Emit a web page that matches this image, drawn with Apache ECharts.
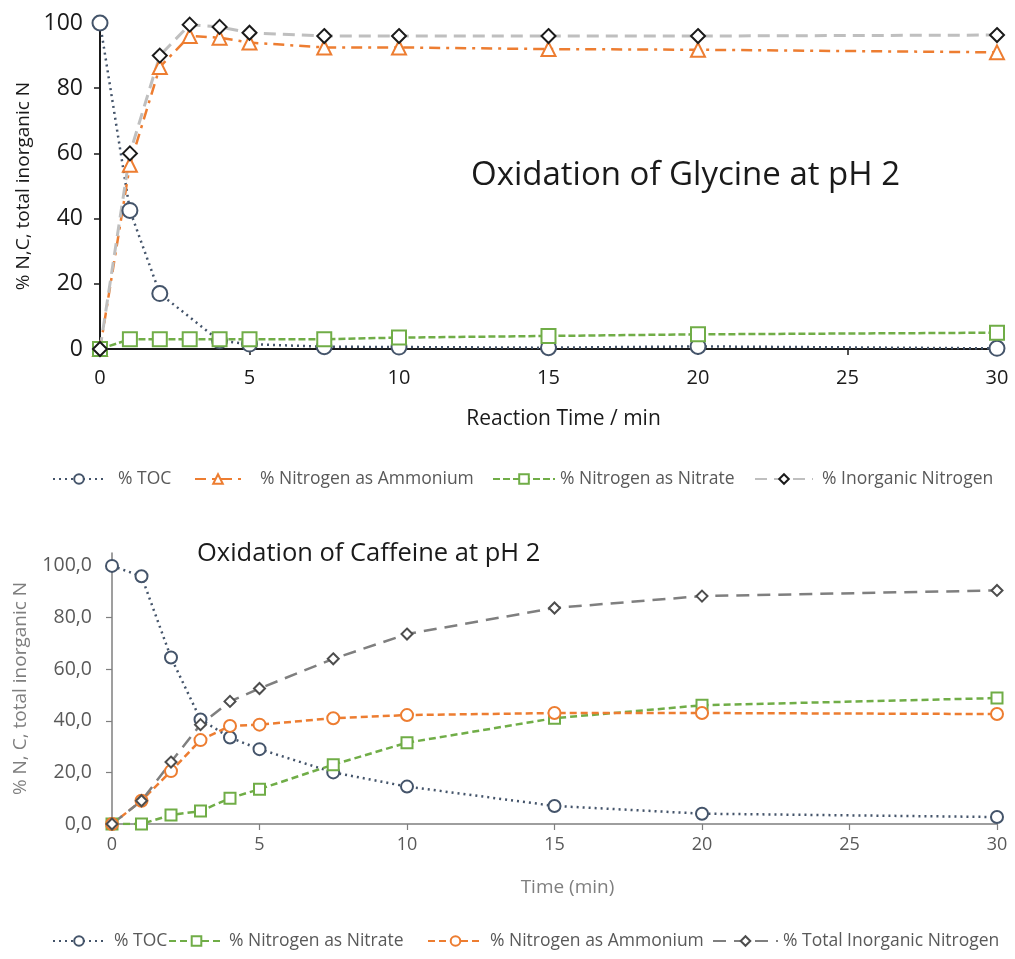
<!DOCTYPE html>
<html>
<head>
<meta charset="utf-8">
<script src="https://cdn.jsdelivr.net/npm/echarts@6/dist/echarts.min.js"></script>
<style>html,body{margin:0;padding:0;background:#fff}#c{width:1015px;height:959px}</style>
</head>
<body>
<div id="c"></div>
<script>
// ---- Top chart: Oxidation of Glycine at pH 2 ----
const glyTime = [0, 1, 2, 3, 4, 5, 7.5, 10, 15, 20, 30];
const glyTocTime = [0, 1, 2, 4, 5, 7.5, 10, 15, 20, 30];
const glyTOC = [100, 42.5, 17, 2.5, 1.5, 0.7, 0.6, 0.4, 0.8, 0.2];
const glyAmmonium = [0, 56.5, 86.5, 96, 95.5, 94, 92.5, 92.5, 92, 91.8, 91];
const glyNitrate = [0, 3, 3, 3, 3, 3, 3, 3.5, 4, 4.5, 5];
const glyInorganic = [0, 60, 90, 99.5, 98.8, 97, 96, 96, 96, 96, 96.3];
const glyNames = ['% TOC', '% Nitrogen as Ammonium', '% Nitrogen as Nitrate', '% Inorganic Nitrogen'];

// ---- Bottom chart: Oxidation of Caffeine at pH 2 ----
const cafTime = [0, 1, 2, 3, 4, 5, 7.5, 10, 15, 20, 30];
const cafTOC = [100, 96, 64.5, 40.5, 33.5, 29, 20, 14.5, 7, 4, 2.7];
const cafNitrate = [0, 0, 3.5, 5, 10, 13.5, 23, 31.5, 41, 46, 48.8];
const cafAmmonium = [0, 9, 20.5, 32.5, 38, 38.5, 41, 42.2, 43, 43, 42.6];
const cafTotal = [0, 9, 24, 38.5, 47.5, 52.5, 64, 73.6, 83.7, 88.3, 90.5];
const cafNames = ['% TOC', '% Nitrogen as Nitrate', '% Nitrogen as Ammonium', '% Total Inorganic Nitrogen'];

const yTicks = [0, 20, 40, 60, 80, 100];

const pairs = (xs, ys) => xs.map((x, i) => [x, ys[i]]);
const FONT = 'Open Sans';

// legend display text per internal series id
const labelOf = {};
glyNames.forEach((n, i) => { labelOf['g' + i] = n; });
cafNames.forEach((n, i) => { labelOf['c' + i] = n; });

const chart = echarts.init(document.getElementById('c'), null, {renderer: 'canvas'});

function lineSeries(id, xi, yi, data, color, dash, width, symbol, size, borderColor) {
  return {
    name: id, type: 'line', xAxisIndex: xi, yAxisIndex: yi, data: data,
    symbol: symbol, symbolSize: size, showSymbol: true,
    lineStyle: {color: color, type: dash, width: width},
    itemStyle: {color: '#ffffff', borderColor: borderColor || color, borderWidth: 2},
    emphasis: {disabled: true}, animation: false
  };
}

function legendItem(id, left, top, iw, gap, fs) {
  return {
    data: [id], left: left, top: top, padding: 0, itemWidth: iw, itemHeight: 12,
    formatter: n => labelOf[n],
    textStyle: {fontFamily: FONT, fontSize: fs, color: '#595959', padding: [0, 0, 0, gap]},
    selectedMode: false
  };
}

const option = {
  backgroundColor: '#ffffff',
  animation: false,
  title: [
    {text: 'Oxidation of Glycine at pH 2', left: 466, top: 154,
     textStyle: {fontFamily: FONT, fontSize: 33, fontWeight: 'normal', color: '#1a1a1a'}},
    {text: 'Oxidation of Caffeine at pH 2', left: 192, top: 536,
     textStyle: {fontFamily: FONT, fontSize: 25.5, fontWeight: 'normal', color: '#1a1a1a'}}
  ],
  legend: [
    legendItem('g0', 52, 470, 52, 8, 17.5),
    legendItem('g1', 194, 470, 46, 14, 17.5),
    legendItem('g2', 492, 470, 62, 0, 17.5),
    legendItem('g3', 754, 470, 58, 4, 17.5),
    legendItem('c0', 52, 932, 52, 4, 17.5),
    legendItem('c1', 168, 932, 55, 0, 17.5),
    legendItem('c2', 427, 932, 55, 2, 17.5),
    legendItem('c3', 712, 932, 65, 0, 17.5)
  ],
  grid: [
    {left: 100, right: 18, top: 23, bottom: 610},
    {left: 112, right: 18, top: 553, bottom: 135}
  ],
  xAxis: [
    {type: 'value', gridIndex: 0, min: 0, max: 30, interval: 5,
     name: 'Reaction Time / min', nameLocation: 'middle', nameGap: 60,
     nameTextStyle: {fontFamily: FONT, fontSize: 21, color: '#1a1a1a', padding: [0, 0, 0, 30]},
     axisLine: {lineStyle: {color: '#1a1a1a', width: 2}},
     axisTick: {show: true, length: 6, lineStyle: {color: '#1a1a1a', width: 1.5}},
     axisLabel: {fontFamily: FONT, fontSize: 20, color: '#1a1a1a', margin: 19},
     splitLine: {show: false}},
    {type: 'value', gridIndex: 1, min: 0, max: 30, interval: 5,
     name: 'Time (min)', nameLocation: 'middle', nameGap: 54,
     nameTextStyle: {fontFamily: FONT, fontSize: 19, color: '#7f7f7f', padding: [0, 0, 0, 26]},
     axisLine: {lineStyle: {color: '#7f7f7f', width: 1.5}},
     axisTick: {show: true, length: 6, lineStyle: {color: '#7f7f7f', width: 1.2}},
     axisLabel: {fontFamily: FONT, fontSize: 18, color: '#595959', margin: 12},
     splitLine: {show: false}}
  ],
  yAxis: [
    {type: 'value', gridIndex: 0, min: 0, max: 100, interval: 20,
     name: '% N,C, total inorganic N', nameLocation: 'middle', nameGap: 64,
     nameTextStyle: {fontFamily: FONT, fontSize: 19, color: '#1a1a1a'},
     axisLine: {show: true, lineStyle: {color: '#1a1a1a', width: 2}},
     axisTick: {show: true, length: 6, lineStyle: {color: '#1a1a1a', width: 1.5}},
     axisLabel: {fontFamily: FONT, fontSize: 23, color: '#1a1a1a', margin: 17},
     splitLine: {show: false}},
    {type: 'value', gridIndex: 1, min: 0, max: 105, interval: 20,
     name: '% N, C, total inorganic N', nameLocation: 'middle', nameGap: 82,
     nameTextStyle: {fontFamily: FONT, fontSize: 19, color: '#7f7f7f'},
     axisLine: {show: true, lineStyle: {color: '#7f7f7f', width: 1.5}},
     axisTick: {show: true, length: 6, lineStyle: {color: '#7f7f7f', width: 1.2}},
     axisLabel: {fontFamily: FONT, fontSize: 19.5, color: '#595959', margin: 20, showMaxLabel: false,
       formatter: v => (yTicks.indexOf(v) >= 0 ? v.toFixed(1).replace('.', ',') : '')},
     splitLine: {show: false}}
  ],
  series: [
    lineSeries('g0', 0, 0, pairs(glyTocTime, glyTOC), '#44546a', [2, 4], 2.5, 'circle', 15),
    lineSeries('g1', 0, 0, pairs(glyTime, glyAmmonium), '#ed7d31', [11, 6, 3, 6], 2.5, 'triangle', 14),
    lineSeries('g2', 0, 0, pairs(glyTime, glyNitrate), '#70ad47', [7, 3], 2.5, 'rect', 14),
    lineSeries('g3', 0, 0, pairs(glyTime, glyInorganic), '#bfbfbf', [12, 7], 3, 'diamond', 14, '#1a1a1a'),

    lineSeries('c0', 1, 1, pairs(cafTime, cafTOC), '#44546a', [2, 4], 2.5, 'circle', 12),
    lineSeries('c1', 1, 1, pairs(cafTime, cafNitrate), '#70ad47', [7, 4], 2.5, 'rect', 11),
    lineSeries('c2', 1, 1, pairs(cafTime, cafAmmonium), '#ed7d31', [7, 4], 2.5, 'circle', 12),
    lineSeries('c3', 1, 1, pairs(cafTime, cafTotal), '#7f7f7f', [13, 8], 2.5, 'diamond', 11, '#4d4d4d')
  ]
};
chart.setOption(option);
</script>
</body>
</html>
